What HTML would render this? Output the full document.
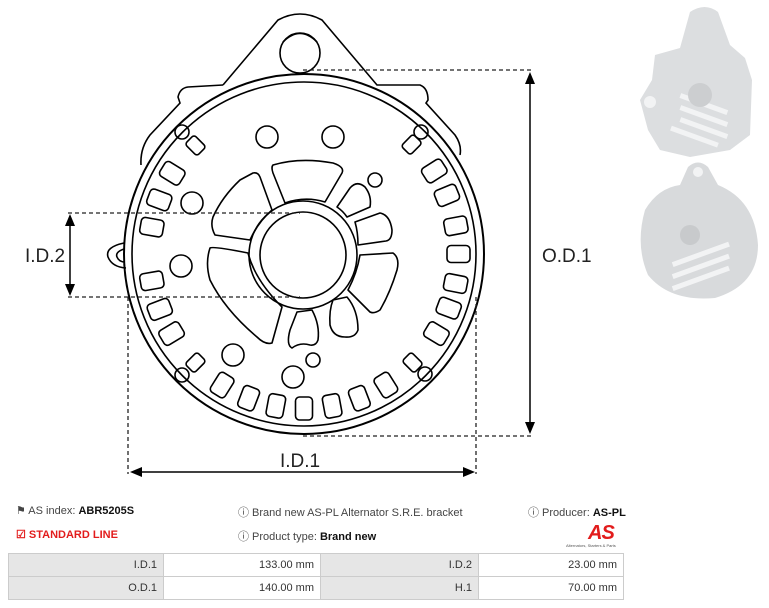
<!DOCTYPE html>
<html><head><meta charset="utf-8"><style>
body{margin:0;background:#fff;width:769px;height:608px;overflow:hidden;position:relative;font-family:"Liberation Sans",sans-serif;}
.t{position:absolute;font-size:11px;color:#444;white-space:nowrap}
.t b{color:#111}
table{position:absolute;left:8px;top:553px;border-collapse:collapse;font-size:11px;color:#333}
td{border:1px solid #ccc;height:22px;padding:0 6px;text-align:right}
td.g{background:#e6e6e6}
</style></head><body>
<svg width="769" height="500" style="position:absolute;left:0;top:0" fill="none" stroke="#000" stroke-width="1.6">
<path d="M223,85 L278,20 Q300,8 322,20 L377,85 L420,85 Q428,88 428,100 L426,103 L455,135 Q462,145 460,155" />
<path d="M223,85 L188,87 Q180,88 178,97 L180,103 L150,135 Q140,148 141,165"/>
<circle cx="300" cy="53" r="20"/>
<path d="M283,42 Q300,25 317,42"/>
<path d="M124,243 Q105,247 108,257 Q112,267 126,268"/>
<path d="M124,249 Q115,252 117,257 Q119,262 125,262"/>
<circle cx="304" cy="254" r="180" stroke-width="2"/>
<circle cx="304" cy="254" r="172" stroke-width="1.6"/>
<circle cx="303" cy="255" r="54"/>
<circle cx="303" cy="255" r="43"/>
<g stroke-linejoin="round">
<path d="M273,165 Q300,157 333,163 Q345,167 342,173 L325,202 Q305,196 285,203 L273,173 Q271,167 273,165Z"/>
<path d="M253,173 Q258,172 260,177 L272,210 Q258,222 250,240 L215,235 Q210,226 213,217 Q222,197 240,180Z"/>
<path d="M210,248 Q213,246 248,253 Q255,280 282,307 L272,343 Q265,345 257,337 Q225,310 210,280 Q205,263 210,248Z"/>
<path d="M297,312 L312,310 Q320,325 318,340 Q316,346 310,345 Q300,342 292,348 Q286,345 290,330Z"/>
<path d="M333,300 L347,297 Q358,310 358,330 Q355,338 345,337 Q333,337 330,325 Q329,310 333,300Z"/>
<path d="M360,255 L393,253 Q400,258 397,270 Q390,293 380,310 Q374,314 370,312 L348,290 Q357,273 360,255Z"/>
<path d="M355,222 L380,213 Q390,215 392,230 Q392,240 386,241 L358,245 Q358,232 355,222Z"/>
<path d="M337,207 L350,188 Q357,180 365,187 Q372,196 370,207 L347,217 Q343,211 337,207Z"/>
</g>
<circle cx="267" cy="137" r="11"/><circle cx="333" cy="137" r="11"/>
<circle cx="375" cy="180" r="7"/><circle cx="192" cy="203" r="11"/>
<circle cx="181" cy="266" r="11"/><circle cx="233" cy="355" r="11"/>
<circle cx="313" cy="360" r="7"/><circle cx="293" cy="377" r="11"/>
<circle cx="182" cy="132" r="7"/><circle cx="421" cy="132" r="7"/>
<circle cx="182" cy="375" r="7"/><circle cx="425" cy="374" r="7"/>
<g>
<rect x="447" y="245.5" width="23" height="17" rx="4" transform="rotate(0 304 254)"/>
<rect x="447" y="245.5" width="23" height="17" rx="4" transform="rotate(11 304 254)"/>
<rect x="447" y="245.5" width="23" height="17" rx="4" transform="rotate(20.5 304 254)"/>
<rect x="447" y="245.5" width="23" height="17" rx="4" transform="rotate(31 304 254)"/>
<rect x="449" y="247.5" width="17" height="13" rx="3" transform="rotate(45 304 254)"/>
<rect x="447" y="245.5" width="23" height="17" rx="4" transform="rotate(58 304 254)"/>
<rect x="447" y="245.5" width="23" height="17" rx="4" transform="rotate(69 304 254)"/>
<rect x="447" y="245.5" width="23" height="17" rx="4" transform="rotate(79.5 304 254)"/>
<rect x="447" y="245.5" width="23" height="17" rx="4" transform="rotate(90 304 254)"/>
<rect x="447" y="245.5" width="23" height="17" rx="4" transform="rotate(100.5 304 254)"/>
<rect x="447" y="245.5" width="23" height="17" rx="4" transform="rotate(111 304 254)"/>
<rect x="447" y="245.5" width="23" height="17" rx="4" transform="rotate(122 304 254)"/>
<rect x="449" y="247.5" width="17" height="13" rx="3" transform="rotate(135 304 254)"/>
<rect x="447" y="245.5" width="23" height="17" rx="4" transform="rotate(149 304 254)"/>
<rect x="447" y="245.5" width="23" height="17" rx="4" transform="rotate(159 304 254)"/>
<rect x="447" y="245.5" width="23" height="17" rx="4" transform="rotate(170 304 254)"/>
<rect x="447" y="245.5" width="23" height="17" rx="4" transform="rotate(190 304 254)"/>
<rect x="447" y="245.5" width="23" height="17" rx="4" transform="rotate(200.5 304 254)"/>
<rect x="447" y="245.5" width="23" height="17" rx="4" transform="rotate(211.5 304 254)"/>
<rect x="449" y="247.5" width="17" height="13" rx="3" transform="rotate(225 304 254)"/>
<rect x="449" y="247.5" width="17" height="13" rx="3" transform="rotate(314.5 304 254)"/>
<rect x="447" y="245.5" width="23" height="17" rx="4" transform="rotate(327.5 304 254)"/>
<rect x="447" y="245.5" width="23" height="17" rx="4" transform="rotate(337.7 304 254)"/>
<rect x="447" y="245.5" width="23" height="17" rx="4" transform="rotate(349.5 304 254)"/>
</g>
<g stroke="#222" stroke-width="1.3" stroke-dasharray="4,3">
<line x1="303" y1="70" x2="532" y2="70"/><line x1="303" y1="436" x2="532" y2="436"/>
<line x1="68" y1="213" x2="300" y2="213"/><line x1="68" y1="297" x2="300" y2="297"/>
<line x1="128" y1="297" x2="128" y2="474"/><line x1="476" y1="297" x2="476" y2="474"/>
</g>
<g stroke="#000" stroke-width="1.5">
<line x1="530" y1="80" x2="530" y2="426"/>
<line x1="70" y1="222" x2="70" y2="288"/>
<line x1="140" y1="472" x2="465" y2="472"/>
</g>
<g fill="#000" stroke="none">
<path d="M530,72 L525,84 L535,84Z"/><path d="M530,434 L525,422 L535,422Z"/>
<path d="M70,214 L65,226 L75,226Z"/><path d="M70,296 L65,284 L75,284Z"/>
<path d="M130,472 L142,467 L142,477Z"/><path d="M475,472 L463,467 L463,477Z"/>
</g>
<g fill="#222" stroke="none" font-family="Liberation Sans,sans-serif" font-size="19">
<text x="542" y="262">O.D.1</text>
<text x="25" y="262">I.D.2</text>
<text x="280" y="467">I.D.1</text>
</g>
<g stroke="none">
<path d="M690,12 Q705,2 718,12 L730,45 L745,58 L752,80 L750,135 L730,150 L690,157 L660,150 L648,130 L640,100 L652,80 L655,55 L680,48Z" fill="#dcdee0"/>
<g fill="#f2f3f4"><rect x="680" y="100" width="50" height="5" transform="rotate(20 700 100)"/><rect x="680" y="112" width="50" height="5" transform="rotate(20 700 112)"/><rect x="680" y="124" width="50" height="5" transform="rotate(20 700 124)"/><rect x="670" y="136" width="50" height="5" transform="rotate(20 700 136)"/><circle cx="700" cy="95" r="12" fill="#ccced0"/><circle cx="650" cy="102" r="6"/></g>
<path d="M688,167 Q698,158 708,167 L718,185 Q755,200 758,245 Q758,285 715,298 Q670,302 648,275 Q635,245 645,210 Q658,188 680,185Z" fill="#d8dadc"/>
<g fill="#f2f3f4"><circle cx="698" cy="172" r="5"/><rect x="670" y="252" width="60" height="5" transform="rotate(-20 700 252)"/><rect x="670" y="264" width="60" height="5" transform="rotate(-20 700 264)"/><rect x="670" y="276" width="60" height="5" transform="rotate(-20 700 276)"/><circle cx="690" cy="235" r="10" fill="#c8cacc"/></g>
</g>
</svg>
<div class="t" style="left:16px;top:504px">&#9873; AS index: <b>ABR5205S</b></div>
<div class="t" style="left:16px;top:528px;color:#e21c1c;font-weight:bold">&#9745; STANDARD LINE</div>
<div class="t" style="left:238px;top:504px">&#9432; Brand new AS-PL Alternator S.R.E. bracket</div>
<div class="t" style="left:238px;top:528px">&#9432; Product type: <b>Brand new</b></div>
<div class="t" style="left:528px;top:504px">&#9432; Producer: <b>AS-PL</b></div>
<div style="position:absolute;left:588px;top:522px;font:italic bold 20px 'Liberation Sans',sans-serif;color:#e21c1c;letter-spacing:-1px">AS</div>
<div style="position:absolute;left:566px;top:543px;font-size:4px;color:#555">Alternators, Starters &amp; Parts</div>
<table>
<tr><td class="g" style="width:142px">I.D.1</td><td style="width:144px">133.00 mm</td><td class="g" style="width:145px">I.D.2</td><td style="width:132px">23.00 mm</td></tr>
<tr><td class="g">O.D.1</td><td>140.00 mm</td><td class="g">H.1</td><td>70.00 mm</td></tr>
</table>
</body></html>
